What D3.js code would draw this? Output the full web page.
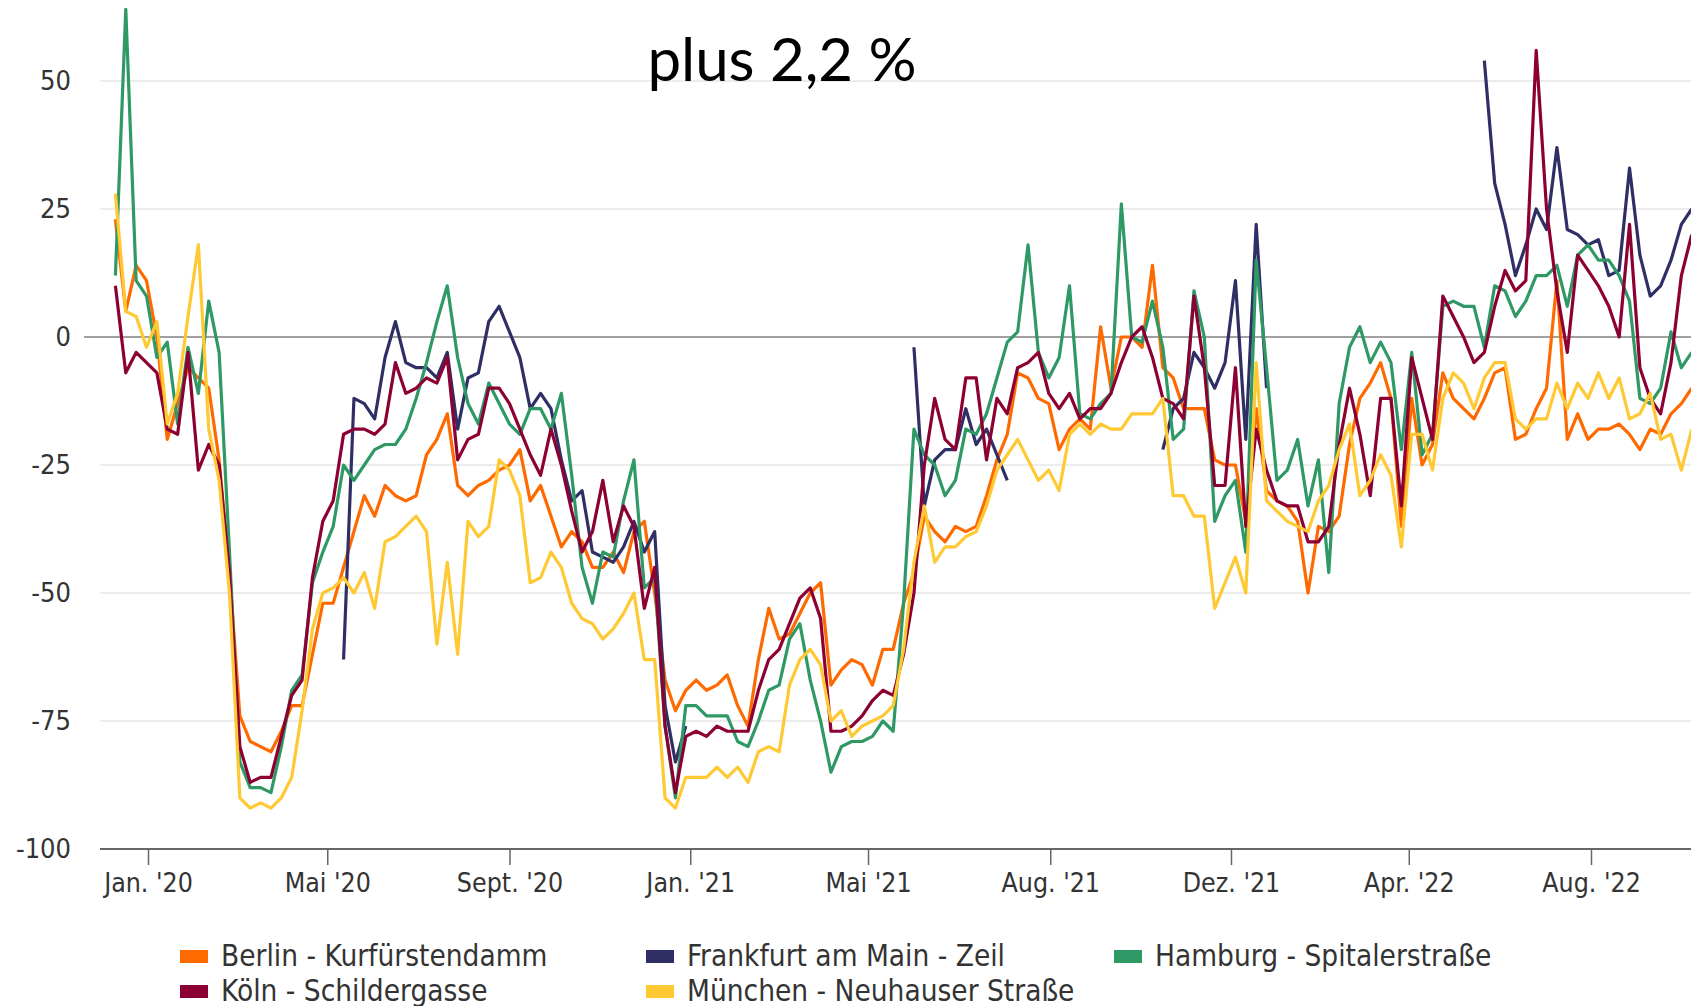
<!DOCTYPE html>
<html>
<head>
<meta charset="utf-8">
<script src="https://cdn.jsdelivr.net/npm/d3@7/dist/d3.min.js"></script>
<style>
  body { margin: 0; background: #fff; }
  svg text { font-family: "DejaVu Sans Condensed", "Roboto Condensed", sans-serif; fill: #333; }
</style>
</head>
<body>
<script>
// weekly samples, first one on 10 Dec 2019
var startDate = new Date(2019, 11, 10);
var stepDays = 7;

var berlin = [23, 5, 14, 11, 0, -20, -13, -6, -8, -10, -24, -46, -74, -79, -80, -81, -77, -72, -72, -62, -52, -52, -45, -38, -31,
  -35, -29, -31, -32, -31, -23, -20, -15, -29, -31, -29, -28, -26, -25, -22, -32, -29, -35, -41, -38, -40, -45, -45, -42, -46,
  -38, -36, -50, -67, -73, -69, -67, -69, -68, -66, -72, -76, -63, -53, -59, -58, -54, -50, -48, -68, -65, -63, -64, -68, -61,
  -61, -52, -46, -35, -38, -40, -37, -38, -37, -31, -24, -19, -7, -8, -12, -13, -22, -18, -16, -18, 2, -10, 0, 0, -2,
  14, -6, -8, -14, -14, -14, -24, -25, -25, -36, -14, -30, -32, -33, -36, -50, -37, -38, -35, -21, -12, -9, -5, -12, -37,
  -12, -25, -21, -7, -12, -14, -16, -12, -7, -6, -20, -19, -14, -10, 11, -20, -15, -20, -18, -18, -17, -19, -22, -18, -19, -15, -13, -10];

var frankfurt = [null, null, null, null, null, null, null, null, null, null, null, null, null, null, null, null, null, null, null, null, null, null, -63, -12, -13,
  -16, -4, 3, -5, -6, -6, -8, -3, -18, -8, -7, 3, 6, 1, -4, -14, -11, -14, -24, -32, -30, -42, -43, -44, -41,
  -36, -42, -38, -72, -83, -76, null, null, null, null, null, null, null, null, null, null, null, null, null, null, null, null, null, null, null,
  null, null, -2, -33, -24, -22, -22, -14, -21, -18, -23, -28, null, null, null, null, null, null, null, null, null, null, null, null, null,
  null, -22, -14, -12, -3, -6, -10, -5, 11, -20, 22, -10, null, null, null, null, null, null, null, null, null, null, null, null, null,
  null, null, null, null, null, null, null, 54, 30, 22, 12, 18, 25, 21, 37, 21, 20, 18, 19, 12, 13, 33, 16, 8, 10, 15, 22, 25];

var hamburg = [12, 64, 11, 8, -4, -1, -17, -2, -11, 7, -3, -42, -83, -88, -88, -89, -80, -69, -66, -48, -42, -37, -25, -28, -25,
  -22, -21, -21, -18, -12, -5, 3, 10, -4, -13, -17, -9, -13, -17, -19, -14, -14, -18, -11, -27, -45, -52, -42, -43, -32,
  -24, -49, -47, -76, -90, -72, -72, -74, -74, -74, -79, -80, -75, -69, -68, -59, -56, -67, -75, -85, -80, -79, -79, -78, -75,
  -77, -52, -18, -23, -25, -31, -28, -18, -19, -15, -8, -1, 1, 18, -3, -8, -4, 10, -15, -16, -13, -11, 26, 0, -1,
  7, -2, -20, -18, 9, 0, -36, -31, -28, -42, 15, -6, -28, -26, -20, -33, -24, -46, -13, -2, 2, -5, -1, -5, -22,
  -3, -23, -19, 6, 7, 6, 6, -2, 10, 9, 4, 7, 12, 12, 14, 6, 16, 18, 15, 15, 12, 7, -12, -13, -10, 1, -6, -3];

var koeln = [10, -7, -3, -5, -7, -18, -19, -3, -26, -21, -25, -46, -80, -87, -86, -86, -78, -70, -67, -47, -36, -32, -19, -18, -18,
  -19, -17, -5, -11, -10, -8, -9, -4, -24, -20, -19, -10, -10, -13, -18, -23, -27, -18, -25, -34, -42, -38, -28, -40, -33,
  -37, -53, -45, -76, -89, -78, -77, -78, -76, -77, -77, -77, -69, -63, -61, -56, -51, -49, -55, -77, -77, -76, -74, -71, -69,
  -70, -62, -50, -25, -12, -20, -22, -8, -8, -24, -12, -15, -6, -5, -3, -11, -14, -11, -16, -14, -14, -11, -5, 0, 2,
  -4, -12, -13, -16, 8, -6, -29, -29, -6, -37, -18, -26, -32, -33, -33, -40, -40, -37, -21, -10, -19, -31, -12, -12, -33,
  -4, -12, -20, 8, 4, 0, -5, -3, 6, 13, 9, 11, 56, 25, 9, -3, 16, 13, 10, 6, 0, 22, -6, -12, -15, -5, 12, 20];

var muenchen = [28, 5, 4, -2, 3, -17, -11, 4, 18, -18, -28, -50, -90, -92, -91, -92, -90, -86, -73, -57, -50, -49, -47, -50, -46,
  -53, -40, -39, -37, -35, -38, -60, -44, -62, -36, -39, -37, -24, -26, -31, -48, -47, -42, -45, -52, -55, -56, -59, -57, -54,
  -50, -63, -63, -90, -92, -86, -86, -86, -84, -86, -84, -87, -81, -80, -81, -68, -63, -61, -64, -75, -73, -78, -76, -75, -74,
  -72, -61, -44, -33, -44, -41, -41, -39, -38, -33, -26, -23, -20, -24, -28, -26, -30, -19, -17, -19, -17, -18, -18, -15, -15,
  -15, -12, -31, -31, -35, -35, -53, -48, -43, -50, -5, -32, -34, -36, -37, -38, -32, -29, -22, -17, -31, -28, -23, -27, -41,
  -19, -19, -26, -12, -7, -9, -14, -8, -5, -5, -16, -18, -16, -16, -9, -14, -9, -12, -7, -12, -8, -16, -15, -11, -20, -19, -26, -18];

var seriesNames = ["Berlin - Kurfürstendamm", "Frankfurt am Main - Zeil", "Hamburg - Spitalerstraße", "Köln - Schildergasse", "München - Neuhauser Straße"];
var seriesColors = ["#ff6a00", "#2f2f66", "#2f9966", "#8c0033", "#ffc933"];
var seriesValues = [berlin, frankfurt, hamburg, koeln, muenchen];

var tickDates = [new Date(2020, 0, 1), new Date(2020, 4, 1), new Date(2020, 8, 1), new Date(2021, 0, 1), new Date(2021, 4, 1),
  new Date(2021, 8, 1), new Date(2022, 0, 1), new Date(2022, 4, 1), new Date(2022, 8, 1)];
var tickLabels = ["Jan. '20", "Mai '20", "Sept. '20", "Jan. '21", "Mai '21", "Aug. '21", "Dez. '21", "Apr. '22", "Aug. '22"];
var yTicks = [50, 25, 0, -25, -50, -75, -100];
var title = "plus 2,2 %";

var width = 1691, height = 1006;

var svg = d3.select("body").append("svg")
  .attr("width", width)
  .attr("height", height);

var x = d3.scaleTime()
  .domain([tickDates[0], tickDates[tickDates.length - 1]])
  .range([148, 1591]);
var y = d3.scaleLinear()
  .domain([-100, 50])
  .range([849, 81]);

// grid
svg.append("g")
  .selectAll("line")
  .data(yTicks.filter(function(d) { return d != 0 && d != -100; }))
  .enter().append("line")
  .attr("x1", 100).attr("x2", width)
  .attr("y1", function(d) { return y(d); })
  .attr("y2", function(d) { return y(d); })
  .attr("stroke", "#e6e6e6")
  .attr("stroke-width", 1.5);

svg.append("line")
  .attr("x1", 84).attr("x2", width)
  .attr("y1", y(0)).attr("y2", y(0))
  .attr("stroke", "#808080")
  .attr("stroke-width", 1.5);

// y labels
svg.append("g")
  .selectAll("text")
  .data(yTicks)
  .enter().append("text")
  .attr("x", 71)
  .attr("y", function(d) { return y(d); })
  .attr("dy", "0.35em")
  .attr("text-anchor", "end")
  .style("font-size", "27px")
  .text(function(d) { return d; });

// x axis
var xAxis = d3.axisBottom(x)
  .tickValues(tickDates)
  .tickSize(16)
  .tickPadding(8)
  .tickFormat(function(d, i) { return tickLabels[i]; });

var gx = svg.append("g")
  .attr("transform", "translate(0," + y(-100) + ")")
  .call(xAxis);
gx.select(".domain").remove();
gx.selectAll(".tick line").attr("stroke", "#666").attr("stroke-width", 1.5);
gx.selectAll(".tick text")
  .style("font-size", "26.5px")
  .attr("fill", "#333");
gx.attr("font-family", null);
gx.append("line")
  .attr("x1", 100).attr("x2", width)
  .attr("stroke", "#666")
  .attr("stroke-width", 2);

// lines
var line = d3.line()
  .defined(function(d) { return d.v != null; })
  .x(function(d) { return x(d.date); })
  .y(function(d) { return y(d.v); });

var series = seriesValues.map(function(vals, k) {
  return {
    name: seriesNames[k],
    color: seriesColors[k],
    points: vals.map(function(v, i) { return { date: d3.timeDay.offset(startDate, i * stepDays), v: v }; })
  };
});

svg.append("g")
  .selectAll("path")
  .data(series)
  .enter().append("path")
  .attr("fill", "none")
  .attr("stroke", function(d) { return d.color; })
  .attr("stroke-width", 3.2)
  .attr("stroke-linejoin", "round")
  .attr("d", function(d) { return line(d.points); });

// title
svg.append("text")
  .attr("x", 782)
  .attr("y", 81)
  .attr("text-anchor", "middle")
  .style("font-family", "Lato, 'Open Sans', sans-serif")
  .style("font-size", "60px")
  .style("fill", "#000")
  .text(title);

// legend
var legendPos = [[180, 956], [646, 956], [1114, 956], [180, 991], [646, 991]];
var lg = svg.append("g")
  .selectAll("g")
  .data(series)
  .enter().append("g")
  .attr("transform", function(d, i) { return "translate(" + legendPos[i][0] + "," + legendPos[i][1] + ")"; });
lg.append("rect")
  .attr("x", 0).attr("y", -6)
  .attr("width", 28).attr("height", 13)
  .attr("fill", function(d) { return d.color; });
lg.append("text")
  .attr("x", 41)
  .attr("dy", "0.35em")
  .style("font-size", "29.5px")
  .text(function(d) { return d.name; });
</script>
</body>
</html>
